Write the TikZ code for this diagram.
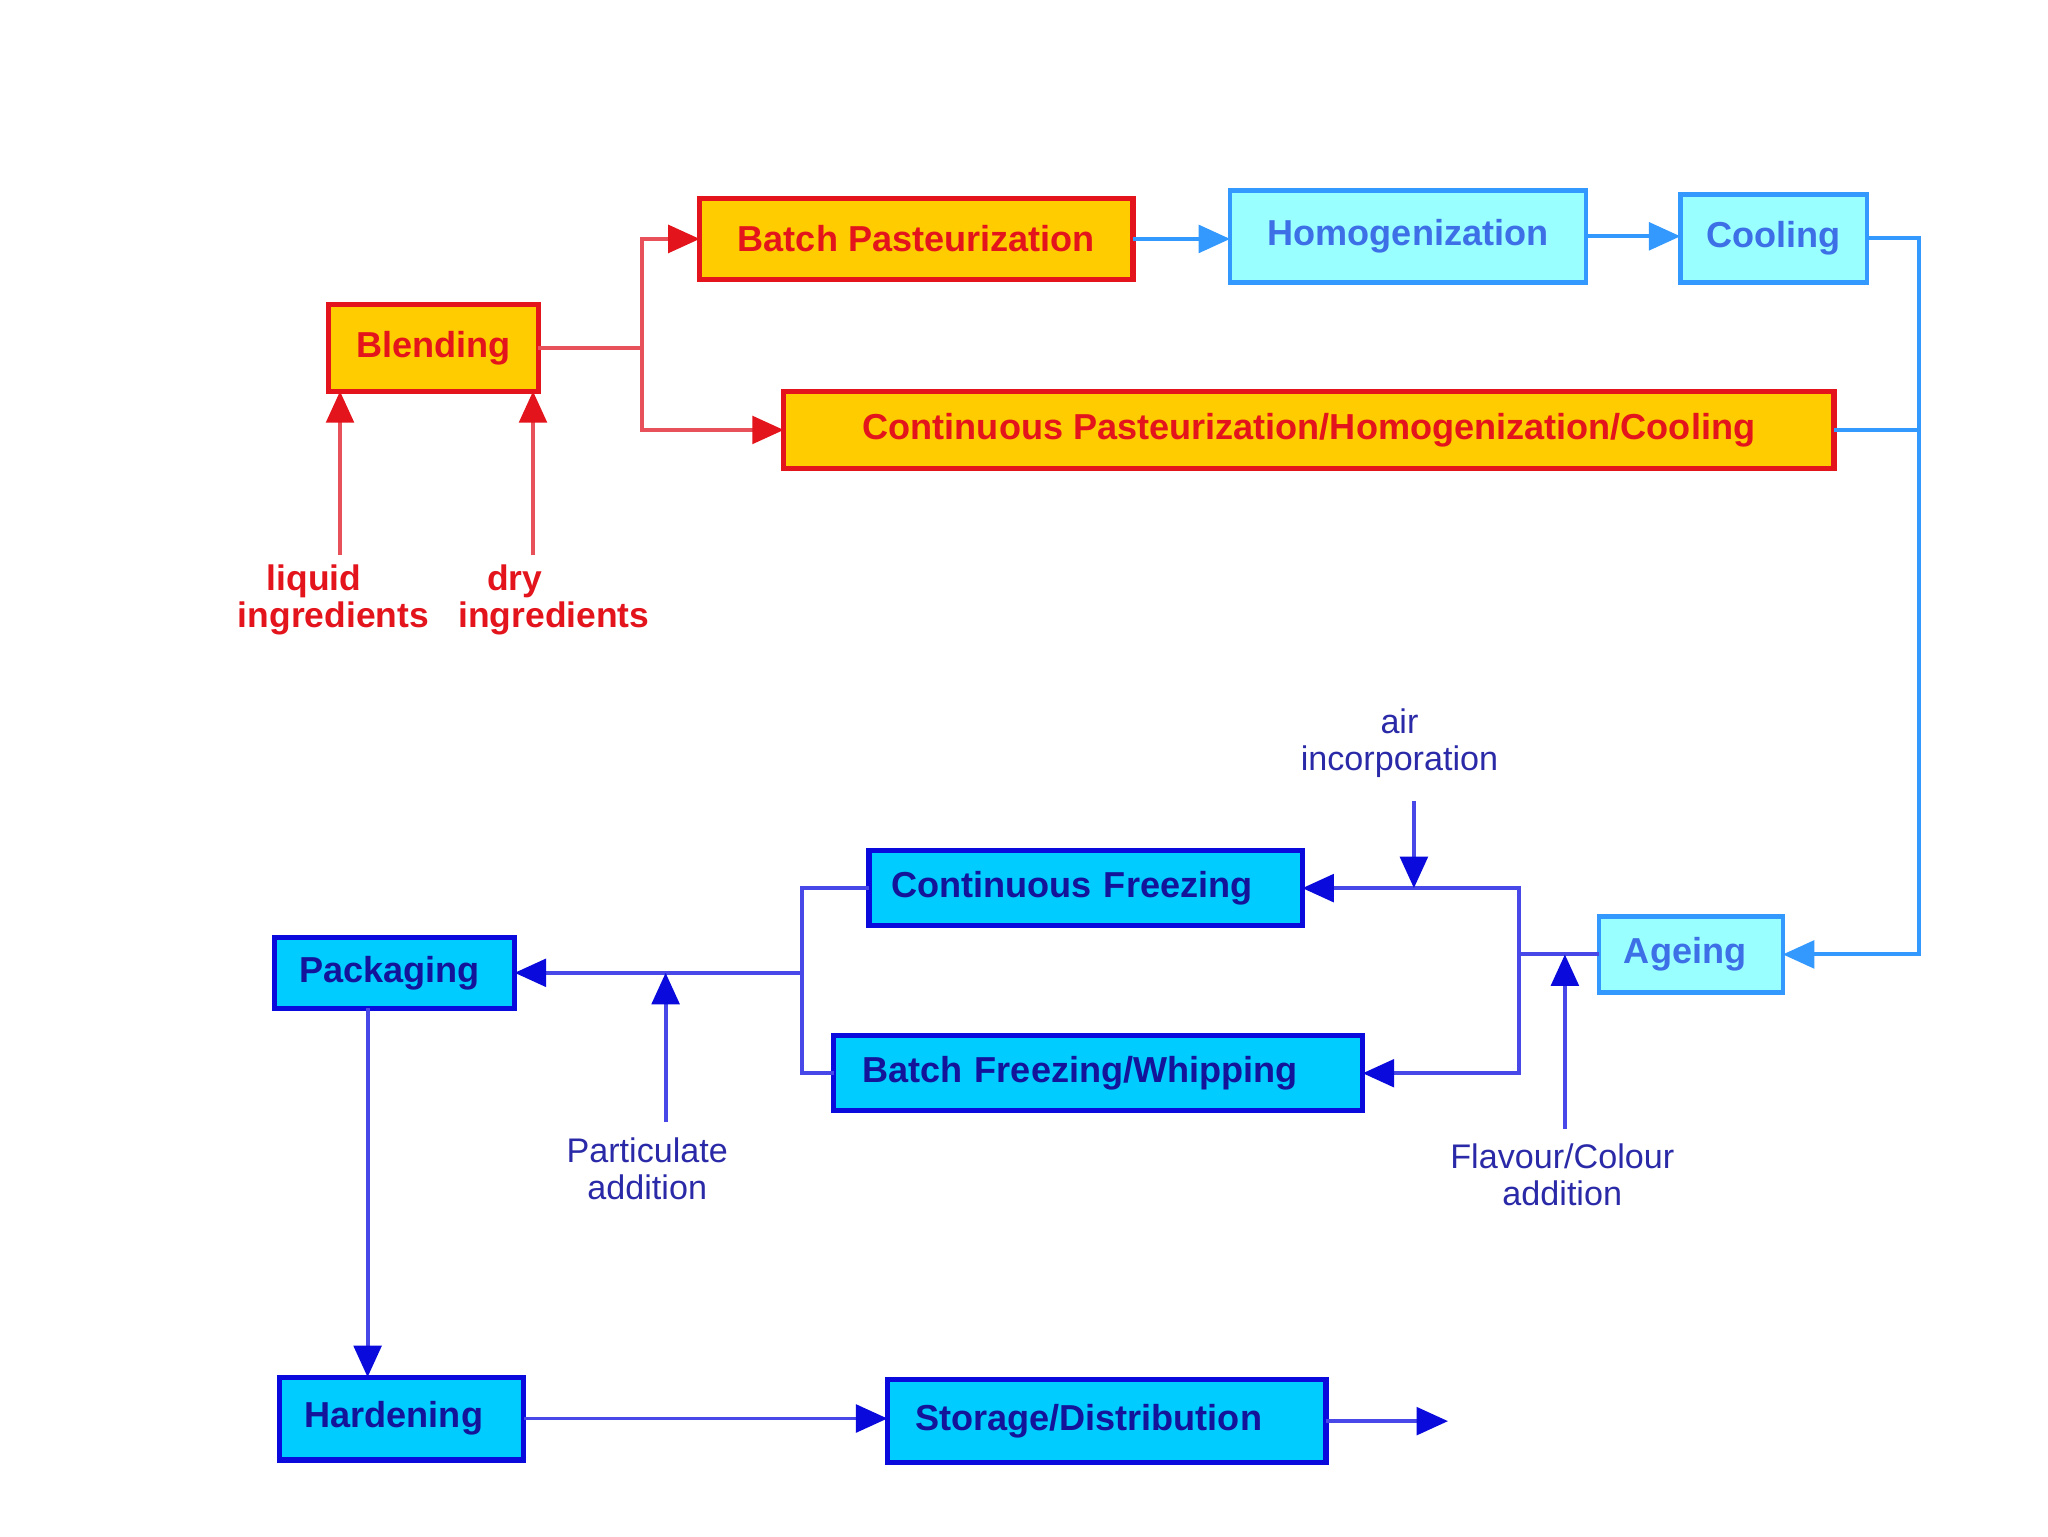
\documentclass[tikz,border=0pt]{standalone}
\usepackage{fontspec}
\setmainfont{Liberation Sans}
\usetikzlibrary{arrows.meta,calc}
\definecolor{orfill}{HTML}{FFCC00}
\definecolor{redb}{HTML}{E3141C}
\definecolor{redl}{HTML}{E8505A}
\definecolor{cyfill}{HTML}{99FFFF}
\definecolor{ltb}{HTML}{3399FF}
\definecolor{lttext}{HTML}{3D70E6}
\definecolor{dkfill}{HTML}{00CCFF}
\definecolor{dkb}{HTML}{0A0ADC}
\definecolor{dkl}{HTML}{4848E8}
\definecolor{dktext}{HTML}{14149A}
\definecolor{lbltext}{HTML}{2A2AA8}
\begin{document}
\begin{tikzpicture}[x=1pt,y=-1pt,
  box/.style={draw, line width=4pt, anchor=north west, inner sep=0pt, outer sep=0pt,
    font=\fontsize{27.5}{30}\selectfont\bfseries},
  obox/.style={box, fill=orfill, draw=redb, text=redb, align=center},
  cbox/.style={box, fill=cyfill, draw=ltb, line width=3.5pt, text=lttext, align=center},
  dbox/.style={box, fill=dkfill, draw=dkb, text=dktext, align=left},
  rline/.style={draw=redl, line width=3pt},
  rarr/.style={rline, -{Triangle[length=24pt,width=21pt,color=redb]}},
  lline/.style={draw=ltb, line width=3pt},
  larr/.style={lline, -{Triangle[length=24pt,width=21pt,color=ltb]}},
  dline/.style={draw=dkl, line width=3pt},
  darr/.style={dline, -{Triangle[length=24pt,width=21pt,color=dkb]}},
  lbl/.style={font=\fontsize{26}{28}\selectfont, text=lbltext, align=center, inner sep=0pt},
  rlbl/.style={font=\fontsize{27}{28}\selectfont\bfseries, text=redb, align=left, inner sep=0pt}
]
\fill[white] (0,0) rectangle (1560,1170);
\useasboundingbox (0,0) rectangle (1560,1170);

% red / orange stage
\node[obox, minimum width=330pt, minimum height=62pt] (bp) at (533,151) {Batch Pasteurization};
\node[obox, minimum width=160pt, minimum height=66pt] (blend) at (250,232) {Blending};
\node[obox, minimum width=800pt, minimum height=59pt] (cp) at (597,298) {Continuous Pasteurization/Homogenization/Cooling};
\node[cbox, minimum width=271pt, minimum height=70pt] (hom) at (937,145) {Homogenization};
\node[cbox, minimum width=142pt, minimum height=67pt] (cool) at (1280,148) {Cooling};
\node[cbox, align=left, text width=102pt, inner xsep=19pt, minimum height=58pt] (age) at (1218,698) {Ageing};

% blue stage
\node[dbox, text width=296pt, inner xsep=17pt, minimum height=57pt] (cf) at (662,648) {Continuous Freezing};
\node[dbox, text width=359pt, inner xsep=22pt, minimum height=57pt] (bf) at (635,789) {Batch Freezing/Whipping};
\node[dbox, text width=145pt, inner xsep=19pt, minimum height=54pt] (pack) at (209,714) {Packaging};
\node[dbox, text width=148pt, inner xsep=19pt, minimum height=63pt] (hard) at (213,1049) {Hardening};
\node[dbox, text width=292pt, inner xsep=21pt, minimum height=63pt] (stor) at (676,1051) {Storage/Distribution};

% labels
\node[rlbl, anchor=west] (liql) at (181,457) {\hspace*{22pt}liquid\\ingredients};
\node[rlbl, anchor=west] (dryl) at (349,457) {\hspace*{22pt}dry\\ingredients};
\node[lbl] (airl) at (1066,566) {air\\incorporation};
\node[lbl] (parl) at (493,890) {Particulate\\addition};
\node[lbl] (flvl) at (1190,895) {Flavour/Colour\\addition};

% coordinates
\coordinate (rj) at (489,265);
\coordinate (ageR) at (1462,727);
\coordinate (aj) at (1157,727);
\coordinate (lj) at (611,741);
\coordinate (liq) at (259,423);
\coordinate (dry) at (406,423);
\coordinate (air) at (1077,610);
\coordinate (flv) at (1192,860);
\coordinate (par) at (507,855);
\coordinate (pk) at (280,768);
\coordinate (out) at (1103,1082.5);

% red connectors
\draw[rline] (blend.east) -- (rj);
\draw[rarr] (rj) |- (bp.west);
\draw[rarr] (rj) |- (cp.west);
\draw[rarr] (liq) -- (liq |- blend.south);
\draw[rarr] (dry) -- (dry |- blend.south);

% light blue connectors
\draw[larr] (bp.east) -- (bp.east -| hom.west);
\draw[larr] (hom.east) -- (hom.east -| cool.west);
\draw[larr] (cool.east) -| (ageR) -- (age.east);
\draw[lline] (cp.east) -- (cp.east -| ageR);

% dark blue connectors
\draw[dline] (age.west) -- (aj);
\draw[darr] (aj) |- (cf.east);
\draw[darr] (aj) |- (bf.east);
\draw[dline] (cf.west) -| (lj);
\draw[dline] (bf.west) -| (lj);
\draw[darr] (lj) -- (pack.east);
\draw[darr] (air) -- (air |- cf.east);
\draw[darr] (flv) -- (flv |- aj);
\draw[darr] (par) -- (par |- lj);
\draw[darr] (pk) -- (pk |- hard.north);
\draw[darr] (hard.east) -- (hard.east -| stor.west);
\draw[darr] (stor.east) -- (out);
\end{tikzpicture}
\end{document}
